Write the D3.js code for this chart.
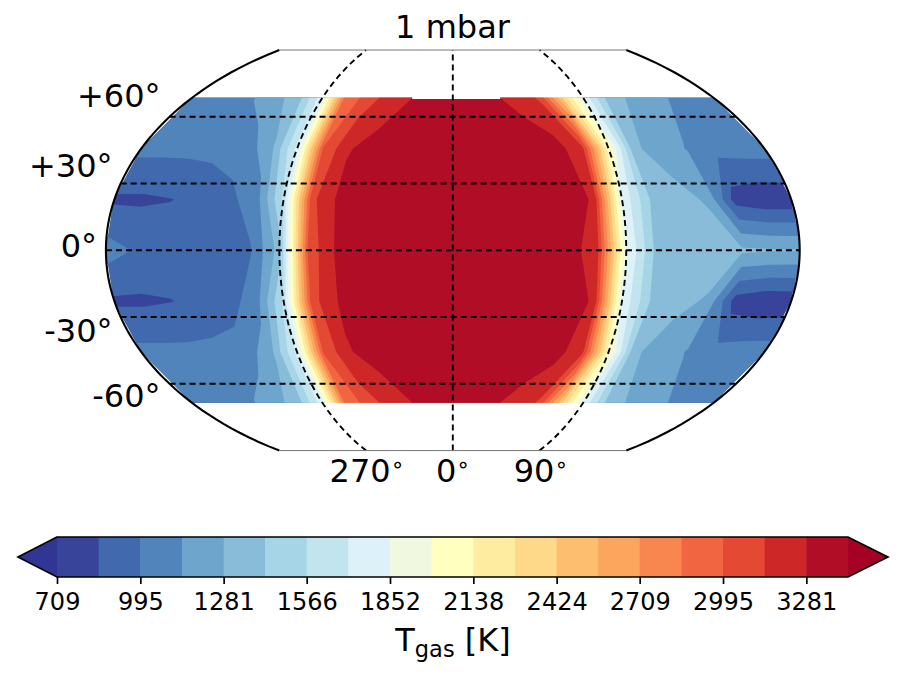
<!DOCTYPE html>
<html>
<head>
<meta charset="utf-8">
<script src="https://cdnjs.cloudflare.com/ajax/libs/d3/7.8.5/d3.min.js"></script>
<style>
  body { margin: 0; background: #fff; }
  text { font-family: "DejaVu Sans", sans-serif; fill: #000; }
</style>
</head>
<body>
<div id="chart"></div>
<script>
// Grid of the map, degrees
const lons = [-180, -165, -150, -135, -120, -105, -90, -75, -60, -45, -30, -15, 0, 15, 30, 45, 60, 75, 90, 105, 120, 135, 150, 165, 180];
const lats = [68.5, 45.7, 22.8, 0, -22.8, -45.7, -68.5];

// Gas temperature [K] along each latitude row
const tempN68 = [1050, 1060, 1070, 1145, 1240, 1400, 1800, 2850, 3050, 3190, 3275, 3320, 3340, 3330, 3290, 3240, 3110, 2450, 1830, 1420, 1270, 1210, 1130, 1080, 1050];
const tempN46 = [1030, 1030, 1030, 1040, 1050, 1240, 1750, 3000, 3270, 3340, 3360, 3370, 3370, 3370, 3370, 3350, 3340, 3170, 2080, 1300, 1230, 1130, 1040, 1057, 1057];
const tempN23 = [830, 830, 848, 880, 960, 1055, 1600, 3100, 3320, 3350, 3380, 3380, 3380, 3380, 3380, 3360, 3330, 3270, 1830, 1420, 1320, 1268, 790, 746, 750];
const tempEq = [1060, 985, 930, 920, 930, 985, 1340, 3040, 3310, 3340, 3380, 3380, 3380, 3380, 3380, 3360, 3350, 3190, 1880, 1400, 1360, 1340, 1310, 1295, 1290];
const tempS23 = [830, 830, 848, 880, 940, 1055, 1600, 3080, 3300, 3340, 3380, 3380, 3380, 3380, 3380, 3360, 3330, 3270, 1830, 1420, 1310, 1270, 790, 742, 750];
const tempS46 = [1030, 1030, 1030, 1040, 1050, 1240, 1750, 3000, 3270, 3340, 3360, 3370, 3370, 3370, 3370, 3350, 3340, 3170, 2080, 1300, 1230, 1130, 1040, 1065, 1065];
const tempS68 = [1050, 1060, 1070, 1145, 1240, 1400, 1800, 2850, 3050, 3190, 3275, 3320, 3340, 3330, 3290, 3240, 3110, 2450, 1830, 1420, 1270, 1210, 1130, 1080, 1050];
const tempRows = [tempN68, tempN46, tempN23, tempEq, tempS23, tempS46, tempS68];

// Contour levels and their colours: below the first level, one per band, above the last
const levels = [709, 852, 995, 1138, 1281, 1423, 1566, 1709, 1852, 1995, 2138, 2281, 2424, 2566, 2709, 2852, 2995, 3138, 3281, 3424];
const colors = ["#313695", "#374499", "#4169ad", "#5084bb", "#6ea5cd", "#89bcd9", "#a6d5e7", "#c1e4ef", "#ddf1f8", "#f0f9e0", "#ffffc0",
    "#feeca0", "#fed98a", "#fdbe70", "#fca55d", "#f8864f", "#f16640", "#e34933", "#cd2827", "#b10d26", "#a50026"];
const barTicks = [709, 995, 1281, 1566, 1852, 2138, 2424, 2709, 2995, 3281];

const parallels = [60, 30, 0, -30, -60];
const meridians = [-90, 0, 90];
const latLabels = ["+60°", "+30°", "0°", "-30°", "-60°"];
const lonLabels = ["270", "0", "90"];

const width = 905, height = 676;
const svg = d3.select("#chart").append("svg")
    .attr("width", width)
    .attr("height", height)
    .style("display", "block");

// Kavrayskiy VII
function kav7(lambda, phi) {
    return [3 * lambda / (2 * Math.PI) * Math.sqrt(Math.PI * Math.PI / 3 - phi * phi), phi];
}
const projection = d3.geoProjection(kav7).scale(127.5).translate([452.8, 250.3]);

// Pad the grid by one cell so the contours run right up to the edge of the data,
// the clamped scales then fold the padding back onto the edge
const nx = lons.length, ny = lats.length;
const padded = [tempRows[0], ...tempRows, tempRows[ny - 1]].map(r => [r[0], ...r, r[nx - 1]]);
const lonScale = d3.scaleLinear().domain(d3.range(nx).map(i => i + 1.5)).range(lons).clamp(true);
const latScale = d3.scaleLinear().domain(d3.range(ny).map(i => i + 1.5)).range(lats).clamp(true);

const contours = d3.contours()
    .size([nx + 2, ny + 2])
    .thresholds(levels)(padded.flat());

const gridToMap = d3.geoTransform({
    point(x, y) {
        const p = projection([lonScale(x), latScale(y)]);
        this.stream.point(p[0], p[1]);
    }
});
const contourPath = d3.geoPath(gridToMap);

// Each level is painted over the one below it
svg.append("g")
    .selectAll("path")
    .data(contours)
    .join("path")
    .attr("d", contourPath)
    .attr("fill", (d, i) => colors[i + 1])
    .attr("stroke", "none");

const line = d3.line().x(d => projection(d)[0]).y(d => projection(d)[1]);

// The top band stops a hair short of the northern edge of the data
const topBand = levels[levels.length - 2];
const hotIdx = d3.range(nx - 1).filter(i => (tempN68[i] - topBand) * (tempN68[i + 1] - topBand) < 0);
const hotLons = hotIdx.map(i => d3.scaleLinear().domain([tempN68[i], tempN68[i + 1]]).range([lons[i], lons[i + 1]])(topBand));
svg.append("path")
    .attr("d", line([[hotLons[0], lats[0]], [hotLons[1], lats[0]]]))
    .attr("fill", "none").attr("stroke", "#fff").attr("stroke-width", 2.2);

// Dashed grid
const dash = "6,4";
parallels.forEach(lat => {
    svg.append("path")
        .attr("d", line(d3.range(-180, 181, 5).map(lon => [lon, lat])))
        .attr("fill", "none").attr("stroke", "#000").attr("stroke-width", 1.9)
        .attr("stroke-dasharray", dash);
});
meridians.forEach(lon => {
    svg.append("path")
        .attr("d", line(d3.range(-90, 91, 3).map(lat => [lon, lat])))
        .attr("fill", "none").attr("stroke", "#000").attr("stroke-width", 1.9)
        .attr("stroke-dasharray", dash);
});

// Map edge
[-180, 180].forEach(lon => {
    svg.append("path")
        .attr("d", line(d3.range(-90, 91, 2).map(lat => [lon, lat])))
        .attr("fill", "none").attr("stroke", "#000").attr("stroke-width", 2.1);
});
[90, -90].forEach(lat => {
    svg.append("path")
        .attr("d", line([[-180, lat], [180, lat]]))
        .attr("fill", "none").attr("stroke", "#777").attr("stroke-width", 1);
});

// Title and map labels
svg.append("text")
    .attr("x", 452.5).attr("y", 38)
    .attr("text-anchor", "middle")
    .attr("font-size", 32)
    .text("1 mbar");

const latLabelPos = [[160.5, 107], [112.5, 176.5], [97, 257], [112.5, 342], [160.5, 407]];
svg.selectAll(".lat-label")
    .data(latLabels)
    .join("text")
    .attr("class", "lat-label")
    .attr("x", (d, i) => latLabelPos[i][0])
    .attr("y", (d, i) => latLabelPos[i][1])
    .attr("text-anchor", "end")
    .attr("font-size", 32)
    .text(d => d);

const lonLabelX = [367, 453, 541];
const lonText = svg.selectAll(".lon-label")
    .data(lonLabels)
    .join("text")
    .attr("class", "lon-label")
    .attr("x", (d, i) => lonLabelX[i])
    .attr("y", 482)
    .attr("text-anchor", "middle")
    .attr("font-size", 32)
    .text(d => d);
lonText.append("tspan")
    .attr("font-size", 22)
    .attr("dy", -10)
    .text("∘");

// Colour bar
const barTop = 537, barBottom = 577;
const x = d3.scaleLinear()
    .domain([levels[0], levels[levels.length - 1]])
    .range([57, 848]);

svg.append("g")
    .selectAll("rect")
    .data(d3.pairs(levels))
    .join("rect")
    .attr("x", d => x(d[0]))
    .attr("y", barTop)
    .attr("width", d => x(d[1]) - x(d[0]) + 0.5)
    .attr("height", barBottom - barTop)
    .attr("fill", (d, i) => colors[i + 1]);

const barMid = (barTop + barBottom) / 2;
const x0 = x.range()[0], x1 = x.range()[1];
svg.append("path")
    .attr("d", `M${x0},${barTop}L18,${barMid}L${x0},${barBottom}Z`)
    .attr("fill", colors[0]);
svg.append("path")
    .attr("d", `M${x1},${barTop}L888,${barMid}L${x1},${barBottom}Z`)
    .attr("fill", colors[colors.length - 1]);
svg.append("path")
    .attr("d", `M${x0},${barTop}L18,${barMid}L${x0},${barBottom}L${x1},${barBottom}L888,${barMid}L${x1},${barTop}Z`)
    .attr("fill", "none")
    .attr("stroke", "#000")
    .attr("stroke-width", 1.7);

const axis = svg.append("g")
    .attr("transform", `translate(0,${barBottom})`)
    .call(d3.axisBottom(x).tickValues(barTicks).tickFormat(d3.format("d")).tickSize(7).tickPadding(9));
axis.select(".domain").remove();
axis.selectAll("line").attr("stroke", "#000").attr("stroke-width", 1.7);
axis.selectAll("text")
    .attr("font-size", 24)
    .style("font-family", '"DejaVu Sans", sans-serif');

const barLabel = svg.append("text")
    .attr("x", 453).attr("y", 651)
    .attr("text-anchor", "middle")
    .attr("font-size", 32);
barLabel.append("tspan").text("T");
barLabel.append("tspan").attr("font-size", 22.5).attr("dy", 6).text("gas");
barLabel.append("tspan").attr("dy", -6).text(" [K]");
</script>
</body>
</html>
